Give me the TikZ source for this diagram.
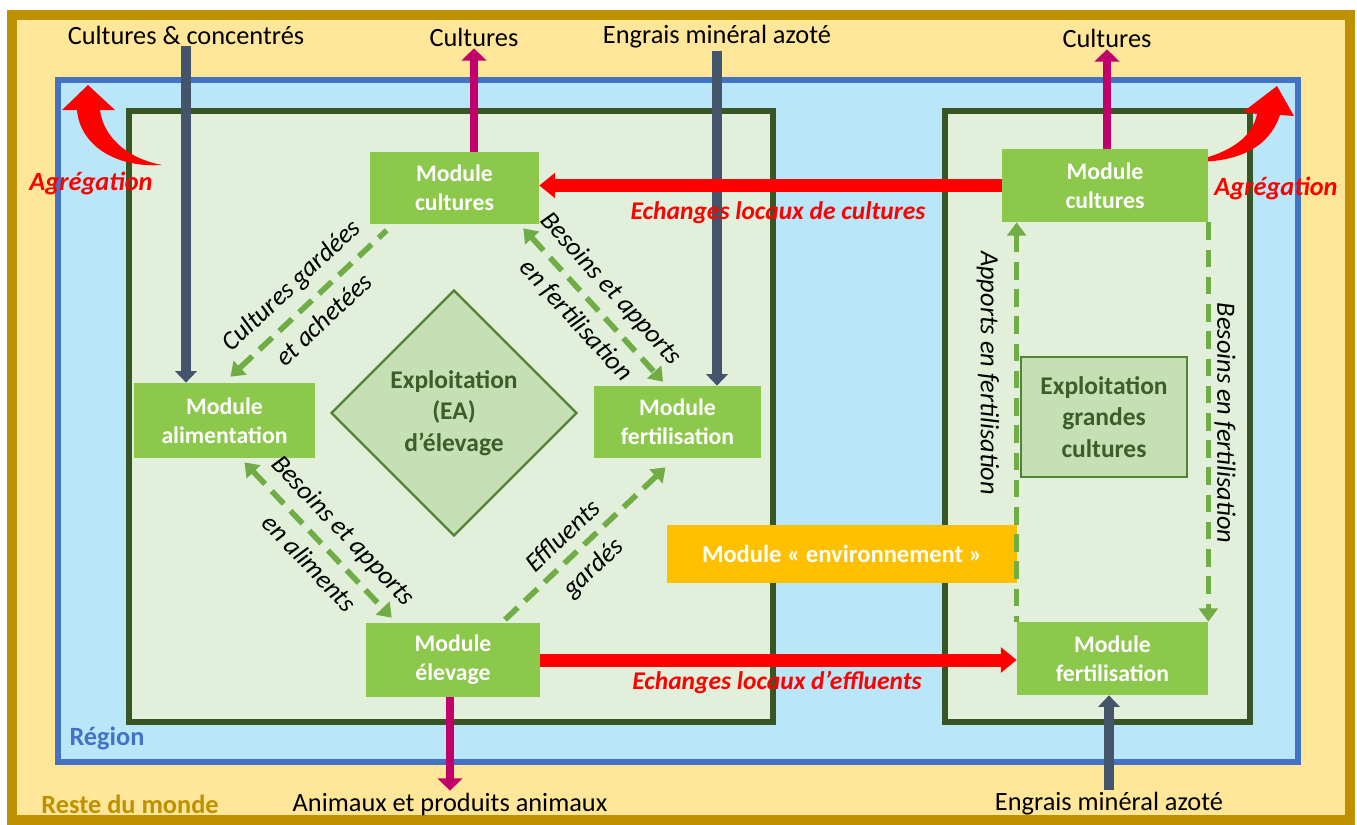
\documentclass[tikz,border=0pt]{standalone}
\usepackage{fontspec}
\setmainfont{Carlito}
\usepackage{xcolor}
\usetikzlibrary{arrows.meta,shapes.geometric,calc}
\definecolor{mondegold}{HTML}{BF9000}
\definecolor{mondefill}{HTML}{FFE699}
\definecolor{regionblue}{HTML}{4472C4}
\definecolor{regionfill}{HTML}{B9E7F9}
\definecolor{farmgreen}{HTML}{375623}
\definecolor{farmfill}{HTML}{E2EFDA}
\definecolor{modgreen}{HTML}{8CC84B}
\definecolor{eafill}{HTML}{C5E0B4}
\definecolor{eaborder}{HTML}{548235}
\definecolor{eatext}{HTML}{3B5E2B}
\definecolor{flowgreen}{HTML}{70AD47}
\definecolor{slate}{HTML}{44546A}
\definecolor{sortie}{HTML}{C2006B}
\definecolor{envorange}{HTML}{FFC000}

\begin{document}
\begin{tikzpicture}[x=0.02cm, y=-0.02cm,
  lbl/.style={font=\fontsize{15}{18}\selectfont, inner sep=1pt},
  module/.style={fill=modgreen, text=white, align=center, inner sep=0pt,
    font=\fontsize{13.5}{16.5}\selectfont\bfseries},
  ea/.style={fill=eafill, draw=eaborder, line width=1.3pt, text=eatext, align=center,
    inner sep=0pt, font=\fontsize{14.5}{18}\selectfont\bfseries},
  flow/.style={flowgreen, line width=3.2pt, dash pattern=on 10pt off 5.5pt,
    >={Triangle[width=10.5pt,length=7.5pt]}},
  flowlbl/.style={text=black, font=\fontsize{15}{18}\selectfont\itshape,
    inner xsep=2pt, inner ysep=5.5pt},
  intrant/.style={slate, line width=5.7pt, -{Triangle[width=12pt,length=6.5pt]}},
  sortant/.style={sortie, line width=5pt, -{Triangle[width=14pt,length=7pt]}},
  echange/.style={red, line width=7.4pt, -{Triangle[width=14pt,length=9pt]}},
  redlbl/.style={text=red, font=\fontsize{14.5}{17}\selectfont\bfseries\itshape, inner sep=1pt}]

  \useasboundingbox (0,0) rectangle (1357,825);
  \fill[white] (0,0) rectangle (1357,825);

  % Reste du monde, region, exploitations
  \draw[mondegold, fill=mondefill, line width=5.7pt] (12,15) rectangle (1350,820);
  \draw[regionblue, fill=regionfill, line width=3.4pt] (58,80) rectangle (1298,762);
  \draw[farmgreen, fill=farmfill, line width=3.4pt] (129,111) rectangle (773,722);
  \draw[farmgreen, fill=farmfill, line width=3.4pt] (945,111) rectangle (1250,722);

  % Agregation
  \fill[red] (88,85) -- (115,110) -- (100,110)
    .. controls (103,135) and (125,158) .. (162,165)
    .. controls (115,168) and (80,145) .. (77,110) -- (62,110) -- cycle;
  \fill[red] (1277,86) -- (1294,116) -- (1280,115)
    .. controls (1268,150) and (1235,163) .. (1188,162)
    .. controls (1225,155) and (1252,140) .. (1257,114) -- (1243,112) -- cycle;

  % Modules
  \node[module, minimum width=3.38cm, minimum height=1.44cm] (cultL) at (454.5,188) {Module\\cultures};
  \node[module, minimum width=3.62cm, minimum height=1.5cm] (alim) at (224.5,420.5) {Module\\alimentation};
  \node[module, minimum width=3.34cm, minimum height=1.44cm] (fertL) at (677.5,422) {Module\\fertilisation};
  \node[module, minimum width=3.48cm, minimum height=1.48cm] (elev) at (453,660) {Module\\élevage};
  \node[ea, diamond, minimum width=4.92cm, minimum height=4.92cm] (eaElev) at (454,413) {Exploitation\\(EA)\\d’élevage};
  \node[module, minimum width=4.12cm, minimum height=1.46cm] (cultR) at (1105,185.5) {Module\\cultures};
  \node[module, minimum width=3.82cm, minimum height=1.46cm] (fertR) at (1112.5,658.5) {Module\\fertilisation};
  \node[ea, minimum width=3.32cm, minimum height=2.4cm] (eaGC) at (1104,417) {Exploitation\\grandes\\cultures};
  \node[module, fill=envorange, minimum width=7cm, minimum height=1.16cm,
    font=\fontsize{14}{17}\selectfont\bfseries] (env) at (842,554) {Module « environnement »};

  % Entrees et sorties
  \node[lbl] (ccIn) at (186,35) {Cultures \& concentrés};
  \node[lbl] (cultOutL) at (474,37) {Cultures};
  \node[lbl] (engIn) at (717,37) {Engrais minéral azoté};
  \node[lbl] (cultOutR) at (1107,38) {Cultures};
  \node[lbl] (animOut) at (450,804) {Animaux et produits animaux};
  \node[lbl] (engInR) at (1109,804) {Engrais minéral azoté};
  \node[lbl, text=regionblue, font=\fontsize{15}{18}\selectfont\bfseries] (region) at (107,738) {Région};
  \node[lbl, text=mondegold, font=\fontsize{15}{18}\selectfont\bfseries] (monde) at (130,804) {Reste du monde};

  \draw[intrant] (ccIn.south) -- (ccIn.south |- alim.north);
  \draw[intrant] (engIn.south) -- (engIn.south |- fertL.north);
  \draw[intrant] (engInR.north) -- (engInR.north |- fertR.south);
  \draw[sortant] (cultOutL.south |- cultL.north) -- (cultOutL.south);
  \draw[sortant] (cultOutR.south |- cultR.north) -- (cultOutR.south);
  \draw[sortant] (animOut.north |- elev.south) -- (animOut.north);

  % Echanges locaux
  \draw[echange] (cultR.west) -- (cultR.west -| cultL.east);
  \draw[echange] (elev.east) -- (elev.east -| fertR.west);
  \node[redlbl] (exCult) at (778,213) {Echanges locaux de cultures};
  \node[redlbl] (exEffl) at (777,682) {Echanges locaux d’effluents};

  % Flux internes
  \draw[flow, <-] ($(alim.north)+(6,-6)$) --
    node[flowlbl, sloped, above] {Cultures gardées}
    node[flowlbl, sloped, below] {et achetées} ($(cultL.south west)+(17,6)$);
  \draw[flow, <->] ($(cultL.south east)+(-16,4)$) --
    node[flowlbl, sloped, above] {Besoins et apports}
    node[flowlbl, sloped, below] {en fertilisation} ($(fertL.north)+(-14.5,-4)$);
  \draw[flow, <->] ($(alim.south)+(20,4)$) --
    node[flowlbl, sloped, above, pos=0.55] {Besoins et apports}
    node[flowlbl, sloped, below, pos=0.55] {en aliments} ($(elev.north west)+(26,-5)$);
  \draw[flow, ->] ($(elev.north)+(52,-3)$) --
    node[flowlbl, sloped, above, pos=0.45] {Effluents}
    node[flowlbl, sloped, below, pos=0.45] {gardés} ($(fertL.south)+(-12,9)$);
  \draw[flow, <-] (fertR.north west |- cultR.south) -- (fertR.north west);
  \draw[flow, ->] (cultR.south east) -- (cultR.south east |- fertR.north);
  \node[flowlbl, rotate=-90] (apportsLbl) at (988,373) {Apports en fertilisation};
  \node[flowlbl, rotate=-90] (besoinsLbl) at (1225,423) {Besoins en fertilisation};

  \node[redlbl, font=\fontsize{15}{18}\selectfont\bfseries\itshape] (agrL) at (91,183) {Agrégation};
  \node[redlbl, font=\fontsize{15}{18}\selectfont\bfseries\itshape] (agrR) at (1276,188) {Agrégation};
\end{tikzpicture}
\end{document}
